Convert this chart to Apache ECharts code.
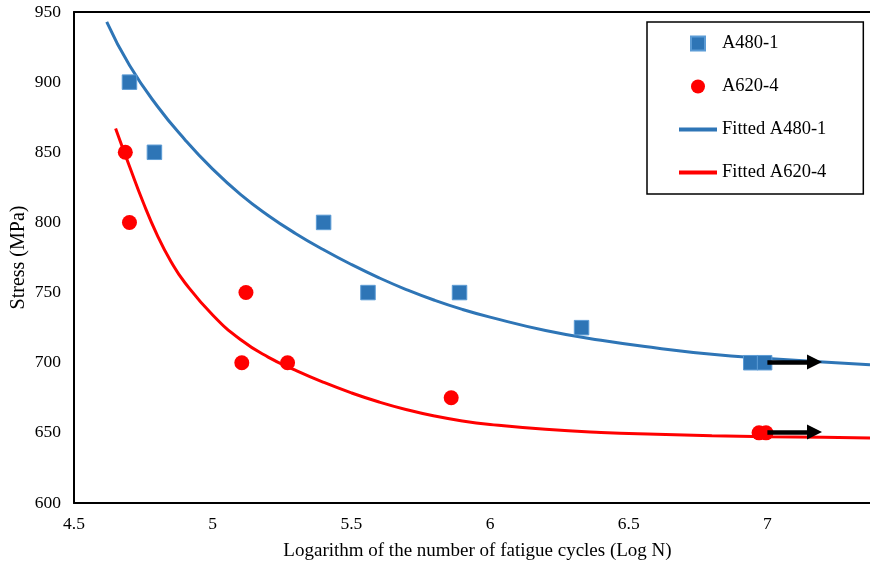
<!DOCTYPE html>
<html>
<head>
<meta charset="utf-8">
<script src="https://cdn.jsdelivr.net/npm/echarts@6/dist/echarts.min.js"></script>
<style>html,body{margin:0;padding:0;background:#fff}#c{width:870px;height:563px}</style>
</head>
<body>
<div id="c"></div>
<script>
// Measured data (Log N, Stress MPa)
const a480 = [[4.70,900],[4.79,850],[5.40,800],[5.56,750],[5.89,750],[6.33,725],[6.94,700],[6.99,700]];
const a620 = [[4.685,850],[4.70,800],[5.12,750],[5.105,700],[5.27,700],[5.86,675],[6.97,650],[6.995,650]];
// Fitted curves, points
const fitA480 = [[4.618,943],[4.70,912],[4.80,883],[4.90,859],[5.00,838],[5.10,820],[5.20,805],[5.30,792],[5.40,780.5],[5.50,770],[5.60,760.5],[5.70,752],[5.80,744.5],[5.90,738],[6.00,732.5],[6.20,723],[6.40,716],[6.60,710.5],[6.80,706],[7.00,703],[7.20,700.5],[7.37,698.5]];
const fitA620 = [[4.65,867],[4.70,840],[4.75,814],[4.80,791],[4.85,772],[4.90,757],[5.00,734],[5.10,716.5],[5.20,704],[5.30,694.5],[5.40,686],[5.50,678.5],[5.60,672],[5.70,666.5],[5.80,662],[5.90,658.5],[6.00,656],[6.20,652.5],[6.40,650.3],[6.60,649],[6.80,648],[7.00,647.3],[7.20,646.8],[7.37,646.4]];
// Run-out arrows
const arrows = [[[7.0,700.5],[7.17,700.5]],[[7.0,650.6],[7.17,650.6]]];
const xTicks = {min:4.5, max:7.37, interval:0.5};
const yTicks = {min:600, max:950, interval:50};

const font = 'Liberation Serif';
const chart = echarts.init(document.getElementById('c'));
chart.setOption({
  animation:false,
  backgroundColor:'#fff',
  grid:{left:74, right:0, top:12, bottom:60, outerBoundsMode:'none', containLabel:false},
  legend:{
    orient:'vertical', left:647, top:22,
    padding:[12,37,12,30],
    borderColor:'#000', borderWidth:1.5,
    itemWidth:38, itemHeight:14, itemGap:24,
    symbolKeepAspect:true,
    textStyle:{fontFamily:font, fontSize:18.5, color:'#000', lineHeight:18},
    data:[
      {name:'A480-1', icon:'path://M0,0H10V10H0Z'},
      {name:'A620-4', icon:'circle'},
      {name:'Fitted A480-1', itemStyle:{opacity:0}, lineStyle:{width:4, color:'#2e75b6'}},
      {name:'Fitted A620-4', itemStyle:{opacity:0}, lineStyle:{width:4, color:'#ff0000'}}
    ]
  },
  xAxis:[{
    type:'value', min:xTicks.min, max:xTicks.max, interval:xTicks.interval,
    name:'Logarithm of the number of fatigue cycles (Log N)',
    nameLocation:'middle', nameGap:39,
    nameTextStyle:{fontFamily:font, fontSize:19, color:'#000', padding:[0,0,0,11]},
    axisLine:{lineStyle:{color:'#000', width:2}},
    axisTick:{show:false},
    splitLine:{show:false},
    axisLabel:{fontFamily:font, fontSize:17.5, color:'#000', margin:12, showMaxLabel:false}
  },{
    type:'value', position:'top', min:xTicks.min, max:xTicks.max,
    axisLine:{show:true, lineStyle:{color:'#000', width:2}},
    axisTick:{show:false}, axisLabel:{show:false}, splitLine:{show:false}
  }],
  yAxis:{
    type:'value', min:yTicks.min, max:yTicks.max, interval:yTicks.interval,
    name:'Stress (MPa)', nameLocation:'middle', nameGap:45, nameMoveOverlap:false,
    nameTextStyle:{fontFamily:font, fontSize:20, color:'#000'},
    axisLine:{show:true, lineStyle:{color:'#000', width:2}},
    axisTick:{show:false},
    splitLine:{show:false},
    axisLabel:{fontFamily:font, fontSize:17.5, color:'#000', margin:13}
  },
  series:[
    {name:'Fitted A480-1', type:'line', data:fitA480, smooth:true, showSymbol:false, symbol:'none',
     lineStyle:{color:'#2e75b6', width:3}, itemStyle:{color:'#2e75b6'}, z:2},
    {name:'Fitted A620-4', type:'line', data:fitA620, smooth:true, showSymbol:false, symbol:'none',
     lineStyle:{color:'#ff0000', width:3}, itemStyle:{color:'#ff0000'}, z:2},
    {name:'A480-1', type:'scatter', data:a480, symbol:'rect', symbolSize:14.5,
     itemStyle:{color:'#2e75b6', borderColor:'#5b9bd5', borderWidth:1, opacity:1}, z:3},
    {name:'A620-4', type:'scatter', data:a620, symbol:'circle', symbolSize:15,
     itemStyle:{color:'#ff0000', opacity:1}, z:3},
    {name:'arrows', type:'lines', coordinateSystem:'cartesian2d', z:4,
     symbol:['none','triangle'], symbolSize:[16,15],
     lineStyle:{color:'#000', width:4.5, opacity:1},
     data:arrows.map(c=>({coords:c}))}
  ]
});
</script>
</body>
</html>
